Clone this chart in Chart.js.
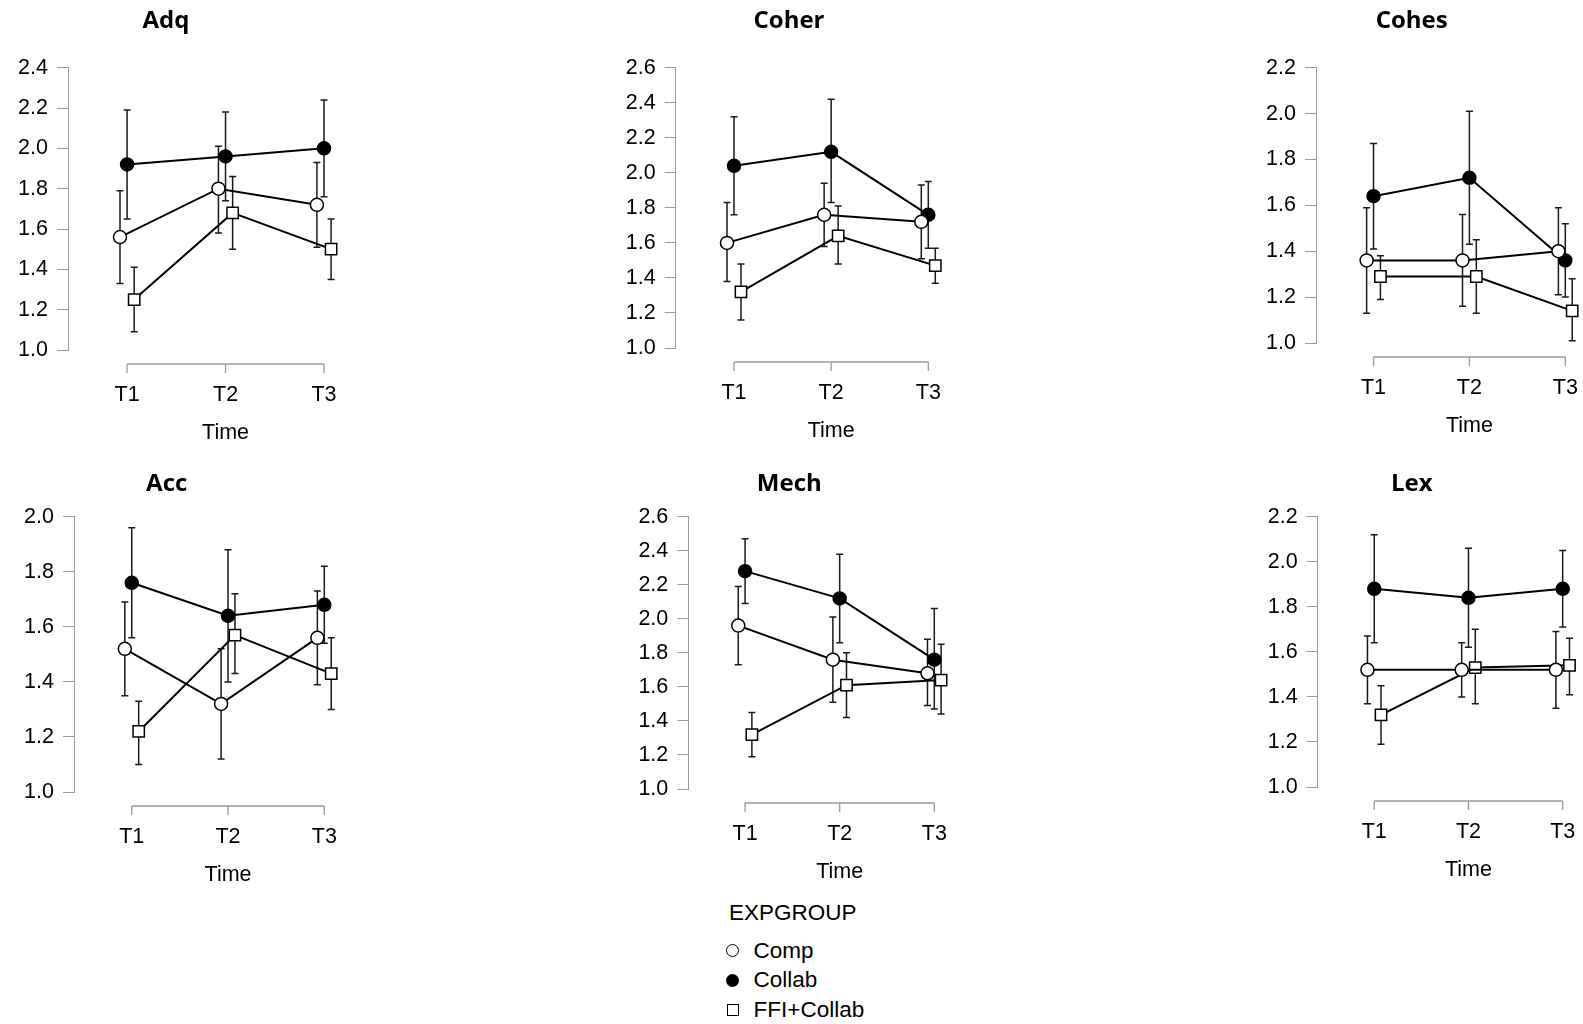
<!DOCTYPE html>
<html>
<head>
<meta charset="utf-8">
<title>EXPGROUP x Time</title>
<script src="https://cdn.jsdelivr.net/npm/chart.js@4.4.1/dist/chart.umd.min.js"></script>
<style>
  body { margin: 0; background: #fff; }
  #page { position: relative; width: 1583px; height: 1024px; overflow: hidden; background: #fff; }
  .panel { position: absolute; }
  #legend { position: absolute; left: 720px; top: 900px; font-family: 'Liberation Sans', Arial, sans-serif; font-size: 22.5px; color: #000; }
  .lhead { height: 26px; line-height: 26px; padding-left: 9px; margin-bottom: 10px; }
  .litem { height: 29.5px; display: flex; align-items: center; }
  .mk { display: inline-block; box-sizing: border-box; margin-left: 6px; margin-right: 14.5px; }
  .mk0 { width: 13px; height: 13px; border: 1.3px solid #000; border-radius: 50%; background: #fff; }
  .mk1 { width: 13px; height: 13px; border-radius: 50%; background: #000; }
  .mk2 { width: 12px; height: 12px; border: 1.3px solid #000; background: #fff; margin-left: 6.5px; margin-right: 15px; }
</style>
</head>
<body>
<div id="page">
  <div id="legend"></div>
</div>
<script>
const times = ['T1', 'T2', 'T3']
const groups = ['Comp', 'Collab', 'FFI+Collab']

// every array below: rows = Comp, Collab, FFI+Collab ; columns = T1, T2, T3
const adqMean = [[1.56, 1.80, 1.72], [1.92, 1.96, 2.00], [1.25, 1.68, 1.50]]
const adqLow  = [[1.33, 1.58, 1.51], [1.65, 1.74, 1.76], [1.09, 1.50, 1.35]]
const adqHigh = [[1.79, 2.01, 1.93], [2.19, 2.18, 2.24], [1.41, 1.86, 1.65]]
const adqTicks = [1.0, 1.2, 1.4, 1.6, 1.8, 2.0, 2.2, 2.4]

const coherMean = [[1.60, 1.76, 1.72], [2.04, 2.12, 1.76], [1.32, 1.64, 1.47]]
const coherLow  = [[1.38, 1.58, 1.51], [1.76, 1.83, 1.57], [1.16, 1.48, 1.37]]
const coherHigh = [[1.83, 1.94, 1.93], [2.32, 2.42, 1.95], [1.48, 1.81, 1.57]]
const coherTicks = [1.0, 1.2, 1.4, 1.6, 1.8, 2.0, 2.2, 2.4, 2.6]

const cohesMean = [[1.36, 1.36, 1.40], [1.64, 1.72, 1.36], [1.29, 1.29, 1.14]]
const cohesLow  = [[1.13, 1.16, 1.21], [1.41, 1.43, 1.20], [1.19, 1.13, 1.01]]
const cohesHigh = [[1.59, 1.56, 1.59], [1.87, 2.01, 1.52], [1.38, 1.45, 1.28]]
const cohesTicks = [1.0, 1.2, 1.4, 1.6, 1.8, 2.0, 2.2]

const accMean = [[1.52, 1.32, 1.56], [1.76, 1.64, 1.68], [1.22, 1.57, 1.43]]
const accLow  = [[1.35, 1.12, 1.39], [1.56, 1.40, 1.54], [1.10, 1.43, 1.30]]
const accHigh = [[1.69, 1.52, 1.73], [1.96, 1.88, 1.82], [1.33, 1.72, 1.56]]
const accTicks = [1.0, 1.2, 1.4, 1.6, 1.8, 2.0]

const mechMean = [[1.96, 1.76, 1.68], [2.28, 2.12, 1.76], [1.32, 1.61, 1.64]]
const mechLow  = [[1.73, 1.51, 1.49], [2.09, 1.86, 1.47], [1.19, 1.42, 1.44]]
const mechHigh = [[2.19, 2.01, 1.88], [2.47, 2.38, 2.06], [1.45, 1.80, 1.85]]
const mechTicks = [1.0, 1.2, 1.4, 1.6, 1.8, 2.0, 2.2, 2.4, 2.6]

const lexMean = [[1.52, 1.52, 1.52], [1.88, 1.84, 1.88], [1.32, 1.53, 1.54]]
const lexLow  = [[1.37, 1.40, 1.35], [1.64, 1.62, 1.71], [1.19, 1.37, 1.41]]
const lexHigh = [[1.67, 1.64, 1.69], [2.12, 2.06, 2.05], [1.45, 1.70, 1.66]]
const lexTicks = [1.0, 1.2, 1.4, 1.6, 1.8, 2.0, 2.2]

// where each panel sits on the page (y axis line x, T3 x, bottom tick y, title centre)
let panels = [
  {title: 'Adq',   mean: adqMean,   low: adqLow,   high: adqHigh,   ticks: adqTicks,   row: 0, axisX: 68,     t3: 324,    yBot: 350,   titleX: 166},
  {title: 'Coher', mean: coherMean, low: coherLow, high: coherHigh, ticks: coherTicks, row: 0, axisX: 675.7,  t3: 928.3,  yBot: 347.3, titleX: 789},
  {title: 'Cohes', mean: cohesMean, low: cohesLow, high: cohesHigh, ticks: cohesTicks, row: 0, axisX: 1316,   t3: 1565.3, yBot: 342.3, titleX: 1411.7},
  {title: 'Acc',   mean: accMean,   low: accLow,   high: accHigh,   ticks: accTicks,   row: 1, axisX: 74,     t3: 324.3,  yBot: 791.7, titleX: 166.7},
  {title: 'Mech',  mean: mechMean,  low: mechLow,  high: mechHigh,  ticks: mechTicks,  row: 1, axisX: 688.3,  t3: 934.3,  yBot: 788.7, titleX: 789.3},
  {title: 'Lex',   mean: lexMean,   low: lexLow,   high: lexHigh,   ticks: lexTicks,   row: 1, axisX: 1317.7, t3: 1562.7, yBot: 786.7, titleX: 1411.7}
]
let rowTop = [0, 460]
let rowAxisTop = [67.7, 516.7]
let rowTitleY = [21, 24.5]

// JASP-like dodge and markers
let dodge = [-0.072, 0, 0.072]
let markers = [
  {shape: 'circle', r: 6.5, fill: '#fff'},
  {shape: 'circle', r: 6.5, fill: '#000'},
  {shape: 'rect', r: 8, fill: '#fff'}
]

let tickFont = {family: "'Liberation Sans', Arial, sans-serif", size: 21.5}
let titleFont = {family: "'Open Sans'", weight: 'bold', size: 24}
let axisGrey = '#9a9a9a'
let xMin = 0.4
let padRight = 45
let xAxisHeight = 100
let yLabelRoom = 66

// error bars under the lines, positioned through the y scale
const errorBars = {
  id: 'errorBars',
  beforeDatasetsDraw(chart) {
    const ctx = chart.ctx
    const y = chart.scales.y
    ctx.save()
    ctx.strokeStyle = '#1a1a1a'
    ctx.lineWidth = 1.5
    chart.data.datasets.forEach((ds, i) => {
      chart.getDatasetMeta(i).data.forEach((pt, j) => {
        const top = y.getPixelForValue(ds.high[j])
        const bot = y.getPixelForValue(ds.low[j])
        ctx.beginPath()
        ctx.moveTo(pt.x, top); ctx.lineTo(pt.x, bot)
        ctx.moveTo(pt.x - 3.5, top); ctx.lineTo(pt.x + 3.5, top)
        ctx.moveTo(pt.x - 3.5, bot); ctx.lineTo(pt.x + 3.5, bot)
        ctx.stroke()
      })
    })
    ctx.restore()
  }
}

// range-frame x axis (T1..T3) detached below the plot, plus its title
const timeAxis = {
  id: 'timeAxis',
  afterDraw(chart, args, opts) {
    const {ctx, chartArea} = chart
    const x = chart.scales.x
    const first = x.getPixelForValue(x.ticks[0].value)
    const last = x.getPixelForValue(x.ticks[x.ticks.length - 1].value)
    const y0 = chartArea.bottom + opts.gap
    ctx.save()
    ctx.strokeStyle = axisGrey
    ctx.lineWidth = 1.3
    ctx.beginPath()
    ctx.moveTo(first, y0); ctx.lineTo(last, y0)
    x.ticks.forEach(t => {
      const px = x.getPixelForValue(t.value)
      ctx.moveTo(px, y0); ctx.lineTo(px, y0 + opts.tick)
    })
    ctx.stroke()
    ctx.fillStyle = '#000'
    ctx.font = tickFont.size + 'px ' + tickFont.family
    ctx.textAlign = 'center'
    ctx.textBaseline = 'middle'
    ctx.fillText(opts.title, (first + last) / 2, chartArea.bottom + opts.titleGap)
    ctx.restore()
  }
}

let page = document.getElementById('page')

panels.forEach(p => {
  let top = rowTop[p.row]
  let ppu = (p.t3 - p.axisX) / 2.6
  // title box is centred on the page title position; keep room for the y labels
  let boxL = Math.min(2 * p.titleX - (p.t3 + 10), p.axisX - yLabelRoom)
  let right = 2 * p.titleX - boxL
  let left = Math.floor(boxL)
  let width = Math.ceil(right + padRight - left)
  let height = Math.ceil(p.yBot - top + xAxisHeight)
  let titleY = rowTitleY[p.row]
  let axisTop = rowAxisTop[p.row] - top
  let half = titleFont.size * 1.2 / 2

  let box = document.createElement('div')
  box.className = 'panel'
  box.style.left = left + 'px'
  box.style.top = top + 'px'
  box.style.width = width + 'px'
  box.style.height = height + 'px'
  let canvas = document.createElement('canvas')
  box.appendChild(canvas)
  page.appendChild(box)

  new Chart(canvas.getContext('2d'), {
    type: 'line',
    data: {
      datasets: groups.map((g, k) => ({
        label: g,
        data: p.mean[k].map((v, i) => ({x: i + 1 + dodge[k], y: v})),
        low: p.low[k],
        high: p.high[k],
        borderColor: '#000',
        borderWidth: 2,
        pointStyle: markers[k].shape,
        pointRadius: markers[k].r,
        pointBackgroundColor: markers[k].fill,
        pointBorderColor: '#000',
        pointBorderWidth: 1.5,
        tension: 0,
        clip: false
      }))
    },
    options: {
      responsive: true,
      maintainAspectRatio: false,
      animation: false,
      events: [],
      layout: {padding: {left: boxL - left, right: width - (right - left), top: 0, bottom: 0}},
      plugins: {
        legend: {display: false},
        tooltip: {enabled: false},
        title: {
          display: true,
          text: p.title,
          color: '#000',
          font: titleFont,
          padding: {top: titleY - half, bottom: axisTop - titleY - half}
        },
        timeAxis: {gap: 14, tick: 9, title: 'Time', titleGap: 83}
      },
      scales: {
        x: {
          type: 'linear',
          min: xMin,
          max: xMin + (right - p.axisX) / ppu,
          afterBuildTicks: s => { s.ticks = times.map((t, i) => ({value: i + 1})) },
          afterFit: s => { s.height = xAxisHeight },
          ticks: {callback: (v, i) => times[i], padding: 32, font: tickFont, color: '#000'},
          grid: {display: false, drawTicks: false},
          border: {display: false}
        },
        y: {
          min: p.ticks[0],
          max: p.ticks[p.ticks.length - 1],
          afterBuildTicks: s => { s.ticks = p.ticks.map(v => ({value: v})) },
          afterFit: s => { s.width = p.axisX - boxL },
          ticks: {callback: v => v.toFixed(1), padding: 9, font: tickFont, color: '#000'},
          grid: {drawOnChartArea: false, drawTicks: true, tickLength: 11, color: axisGrey, lineWidth: 1},
          border: {display: true, color: axisGrey, width: 1}
        }
      }
    },
    plugins: [errorBars, timeAxis]
  })
})

let legend = document.getElementById('legend')
legend.innerHTML = '<div class="lhead">EXPGROUP</div>' +
  groups.map((g, k) => '<div class="litem"><span class="mk mk' + k + '"></span>' + g + '</div>').join('')
</script>
</body>
</html>
